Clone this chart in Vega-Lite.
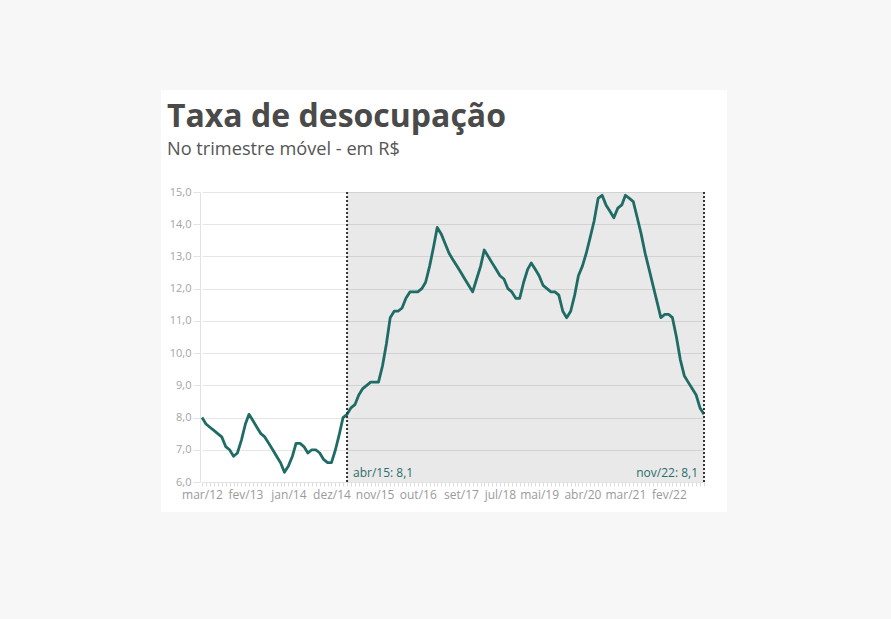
{
  "$schema": "https://vega.github.io/schema/vega-lite/v6.json",
  "width": 566,
  "height": 422,
  "autosize": {"type": "none"},
  "padding": {"left": 161, "top": 90, "right": 164, "bottom": 107},
  "background": "#f7f7f7",
  "title": {
    "text": "Taxa de desocupação",
    "subtitle": "No trimestre móvel - em R$",
    "anchor": "start",
    "frame": "group",
    "dx": 6,
    "offset": -69,
    "font": "Open Sans",
    "fontSize": 32,
    "fontWeight": "bold",
    "color": "#4a4a4a",
    "subtitleFont": "Open Sans",
    "subtitleFontSize": 18.2,
    "subtitleColor": "#555555",
    "subtitlePadding": 7
  },
  "config": {
    "view": {"fill": "white", "stroke": null},
    "font": "Open Sans"
  },
  "datasets": {
    "taxa": [
      {"mes": "2012-03-01", "taxa": 8.0}, {"mes": "2012-04-01", "taxa": 7.8}, {"mes": "2012-05-01", "taxa": 7.7}, {"mes": "2012-06-01", "taxa": 7.6},
      {"mes": "2012-07-01", "taxa": 7.5}, {"mes": "2012-08-01", "taxa": 7.4}, {"mes": "2012-09-01", "taxa": 7.1}, {"mes": "2012-10-01", "taxa": 7.0},
      {"mes": "2012-11-01", "taxa": 6.8}, {"mes": "2012-12-01", "taxa": 6.9},
      {"mes": "2013-01-01", "taxa": 7.3}, {"mes": "2013-02-01", "taxa": 7.8}, {"mes": "2013-03-01", "taxa": 8.1}, {"mes": "2013-04-01", "taxa": 7.9},
      {"mes": "2013-05-01", "taxa": 7.7}, {"mes": "2013-06-01", "taxa": 7.5}, {"mes": "2013-07-01", "taxa": 7.4}, {"mes": "2013-08-01", "taxa": 7.2},
      {"mes": "2013-09-01", "taxa": 7.0}, {"mes": "2013-10-01", "taxa": 6.8}, {"mes": "2013-11-01", "taxa": 6.6}, {"mes": "2013-12-01", "taxa": 6.3},
      {"mes": "2014-01-01", "taxa": 6.5}, {"mes": "2014-02-01", "taxa": 6.8}, {"mes": "2014-03-01", "taxa": 7.2}, {"mes": "2014-04-01", "taxa": 7.2},
      {"mes": "2014-05-01", "taxa": 7.1}, {"mes": "2014-06-01", "taxa": 6.9}, {"mes": "2014-07-01", "taxa": 7.0}, {"mes": "2014-08-01", "taxa": 7.0},
      {"mes": "2014-09-01", "taxa": 6.9}, {"mes": "2014-10-01", "taxa": 6.7}, {"mes": "2014-11-01", "taxa": 6.6}, {"mes": "2014-12-01", "taxa": 6.6},
      {"mes": "2015-01-01", "taxa": 7.0}, {"mes": "2015-02-01", "taxa": 7.5}, {"mes": "2015-03-01", "taxa": 8.0}, {"mes": "2015-04-01", "taxa": 8.1},
      {"mes": "2015-05-01", "taxa": 8.3}, {"mes": "2015-06-01", "taxa": 8.4}, {"mes": "2015-07-01", "taxa": 8.7}, {"mes": "2015-08-01", "taxa": 8.9},
      {"mes": "2015-09-01", "taxa": 9.0}, {"mes": "2015-10-01", "taxa": 9.1}, {"mes": "2015-11-01", "taxa": 9.1}, {"mes": "2015-12-01", "taxa": 9.1},
      {"mes": "2016-01-01", "taxa": 9.6}, {"mes": "2016-02-01", "taxa": 10.3}, {"mes": "2016-03-01", "taxa": 11.1}, {"mes": "2016-04-01", "taxa": 11.3},
      {"mes": "2016-05-01", "taxa": 11.3}, {"mes": "2016-06-01", "taxa": 11.4}, {"mes": "2016-07-01", "taxa": 11.7}, {"mes": "2016-08-01", "taxa": 11.9},
      {"mes": "2016-09-01", "taxa": 11.9}, {"mes": "2016-10-01", "taxa": 11.9}, {"mes": "2016-11-01", "taxa": 12.0}, {"mes": "2016-12-01", "taxa": 12.2},
      {"mes": "2017-01-01", "taxa": 12.7}, {"mes": "2017-02-01", "taxa": 13.3}, {"mes": "2017-03-01", "taxa": 13.9}, {"mes": "2017-04-01", "taxa": 13.7},
      {"mes": "2017-05-01", "taxa": 13.4}, {"mes": "2017-06-01", "taxa": 13.1}, {"mes": "2017-07-01", "taxa": 12.9}, {"mes": "2017-08-01", "taxa": 12.7},
      {"mes": "2017-09-01", "taxa": 12.5}, {"mes": "2017-10-01", "taxa": 12.3}, {"mes": "2017-11-01", "taxa": 12.1}, {"mes": "2017-12-01", "taxa": 11.9},
      {"mes": "2018-01-01", "taxa": 12.3}, {"mes": "2018-02-01", "taxa": 12.7}, {"mes": "2018-03-01", "taxa": 13.2}, {"mes": "2018-04-01", "taxa": 13.0},
      {"mes": "2018-05-01", "taxa": 12.8}, {"mes": "2018-06-01", "taxa": 12.6}, {"mes": "2018-07-01", "taxa": 12.4}, {"mes": "2018-08-01", "taxa": 12.3},
      {"mes": "2018-09-01", "taxa": 12.0}, {"mes": "2018-10-01", "taxa": 11.9}, {"mes": "2018-11-01", "taxa": 11.7}, {"mes": "2018-12-01", "taxa": 11.7},
      {"mes": "2019-01-01", "taxa": 12.2}, {"mes": "2019-02-01", "taxa": 12.6}, {"mes": "2019-03-01", "taxa": 12.8}, {"mes": "2019-04-01", "taxa": 12.6},
      {"mes": "2019-05-01", "taxa": 12.4}, {"mes": "2019-06-01", "taxa": 12.1}, {"mes": "2019-07-01", "taxa": 12.0}, {"mes": "2019-08-01", "taxa": 11.9},
      {"mes": "2019-09-01", "taxa": 11.9}, {"mes": "2019-10-01", "taxa": 11.8}, {"mes": "2019-11-01", "taxa": 11.3}, {"mes": "2019-12-01", "taxa": 11.1},
      {"mes": "2020-01-01", "taxa": 11.3}, {"mes": "2020-02-01", "taxa": 11.8}, {"mes": "2020-03-01", "taxa": 12.4}, {"mes": "2020-04-01", "taxa": 12.7},
      {"mes": "2020-05-01", "taxa": 13.1}, {"mes": "2020-06-01", "taxa": 13.6}, {"mes": "2020-07-01", "taxa": 14.1}, {"mes": "2020-08-01", "taxa": 14.8},
      {"mes": "2020-09-01", "taxa": 14.9}, {"mes": "2020-10-01", "taxa": 14.6}, {"mes": "2020-11-01", "taxa": 14.4}, {"mes": "2020-12-01", "taxa": 14.2},
      {"mes": "2021-01-01", "taxa": 14.5}, {"mes": "2021-02-01", "taxa": 14.6}, {"mes": "2021-03-01", "taxa": 14.9}, {"mes": "2021-04-01", "taxa": 14.8},
      {"mes": "2021-05-01", "taxa": 14.7}, {"mes": "2021-06-01", "taxa": 14.2}, {"mes": "2021-07-01", "taxa": 13.7}, {"mes": "2021-08-01", "taxa": 13.1},
      {"mes": "2021-09-01", "taxa": 12.6}, {"mes": "2021-10-01", "taxa": 12.1}, {"mes": "2021-11-01", "taxa": 11.6}, {"mes": "2021-12-01", "taxa": 11.1},
      {"mes": "2022-01-01", "taxa": 11.2}, {"mes": "2022-02-01", "taxa": 11.2}, {"mes": "2022-03-01", "taxa": 11.1}, {"mes": "2022-04-01", "taxa": 10.5},
      {"mes": "2022-05-01", "taxa": 9.8}, {"mes": "2022-06-01", "taxa": 9.3}, {"mes": "2022-07-01", "taxa": 9.1}, {"mes": "2022-08-01", "taxa": 8.9},
      {"mes": "2022-09-01", "taxa": 8.7}, {"mes": "2022-10-01", "taxa": 8.3}, {"mes": "2022-11-01", "taxa": 8.1}
    ],
    "marcos": [
      {"mes": "2015-04-01", "rotulo": "abr/15: 8,1", "lado": "inicio"},
      {"mes": "2022-11-01", "rotulo": "nov/22: 8,1", "lado": "fim"}
    ],
    "periodo": [
      {"inicio": "2015-04-01", "fim": "2022-11-01"}
    ]
  },
  "layer": [
    {
      "data": {"name": "periodo"},
      "mark": {"type": "rect", "fill": "#000000", "fillOpacity": 0.085},
      "encoding": {
        "x": {"field": "inicio", "type": "temporal", "title": null,
              "scale": {"type": "utc", "domain": [{"year": 2012, "month": 3, "date": 1, "utc": true}, {"year": 2022, "month": 11, "date": 1, "utc": true}], "range": [41, 543]}},
        "x2": {"field": "fim"},
        "y": {"datum": 15, "type": "quantitative", "title": null,
              "scale": {"domain": [6, 15], "range": [392, 102], "nice": false, "zero": false}},
        "y2": {"datum": 6}
      }
    },
    {
      "data": {"name": "taxa"},
      "mark": {"type": "line", "color": "#1f6b65", "strokeWidth": 2.8, "strokeJoin": "round"},
      "encoding": {
        "x": {"field": "mes", "type": "temporal", "title": null,
              "scale": {"type": "utc", "domain": [{"year": 2012, "month": 3, "date": 1, "utc": true}, {"year": 2022, "month": 11, "date": 1, "utc": true}], "range": [41, 543]},
              "axis": {
                "title": null, "offset": -30, "grid": false,
                "domainColor": "#e3e3e3", "tickColor": "#dddddd", "tickSize": 4,
                "tickCount": {"interval": "month", "step": 1},
                "labelOverlap": false, "labelFlush": false, "labelBound": false,
                "labelFont": "Open Sans", "labelFontSize": 12, "labelColor": "#9a9a9a", "labelPadding": 3,
                "labelExpr": "indexof([0,11,22,33,44,55,66,76,86,97,108,119], (utcyear(datum.value)-2012)*12 + utcmonth(datum.value) - 2) >= 0 ? ['jan','fev','mar','abr','mai','jun','jul','ago','set','out','nov','dez'][utcmonth(datum.value)] + '/' + slice(toString(utcyear(datum.value)), 2) : ''"
              }},
        "y": {"field": "taxa", "type": "quantitative", "title": null,
              "scale": {"domain": [6, 15], "range": [392, 102], "nice": false, "zero": false},
              "axis": {
                "title": null, "offset": -39, "values": [6, 7, 8, 9, 10, 11, 12, 13, 14, 15],
                "grid": true, "gridColor": "#e6e6e6", "gridWidth": 1,
                "domainColor": "#e3e3e3", "tickColor": "#e3e3e3", "tickSize": 7,
                "labelFont": "Open Sans", "labelFontSize": 11, "labelColor": "#a5a5a5", "labelPadding": 2,
                "labelExpr": "replace(format(datum.value, '.1f'), '.', ',')"
              }}
      }
    },
    {
      "data": {"name": "marcos"},
      "mark": {"type": "rule", "color": "#333333", "strokeWidth": 2, "strokeDash": [2, 2]},
      "encoding": {
        "x": {"field": "mes", "type": "temporal", "title": null,
              "scale": {"type": "utc", "domain": [{"year": 2012, "month": 3, "date": 1, "utc": true}, {"year": 2022, "month": 11, "date": 1, "utc": true}], "range": [41, 543]}},
        "y": {"datum": 15, "type": "quantitative", "title": null,
              "scale": {"domain": [6, 15], "range": [392, 102], "nice": false, "zero": false}},
        "y2": {"datum": 6}
      }
    },
    {
      "data": {"name": "marcos"},
      "transform": [{"filter": "datum.lado == 'inicio'"}],
      "mark": {"type": "text", "align": "left", "baseline": "alphabetic", "dx": 6, "dy": -5, "font": "Open Sans", "fontSize": 12, "color": "#2a6f6a"},
      "encoding": {
        "x": {"field": "mes", "type": "temporal", "title": null,
              "scale": {"type": "utc", "domain": [{"year": 2012, "month": 3, "date": 1, "utc": true}, {"year": 2022, "month": 11, "date": 1, "utc": true}], "range": [41, 543]}},
        "y": {"datum": 6, "type": "quantitative", "title": null,
              "scale": {"domain": [6, 15], "range": [392, 102], "nice": false, "zero": false}},
        "text": {"field": "rotulo"}
      }
    },
    {
      "data": {"name": "marcos"},
      "transform": [{"filter": "datum.lado == 'fim'"}],
      "mark": {"type": "text", "align": "right", "baseline": "alphabetic", "dx": -6, "dy": -5, "font": "Open Sans", "fontSize": 12, "color": "#2a6f6a"},
      "encoding": {
        "x": {"field": "mes", "type": "temporal", "title": null,
              "scale": {"type": "utc", "domain": [{"year": 2012, "month": 3, "date": 1, "utc": true}, {"year": 2022, "month": 11, "date": 1, "utc": true}], "range": [41, 543]}},
        "y": {"datum": 6, "type": "quantitative", "title": null,
              "scale": {"domain": [6, 15], "range": [392, 102], "nice": false, "zero": false}},
        "text": {"field": "rotulo"}
      }
    }
  ]
}
